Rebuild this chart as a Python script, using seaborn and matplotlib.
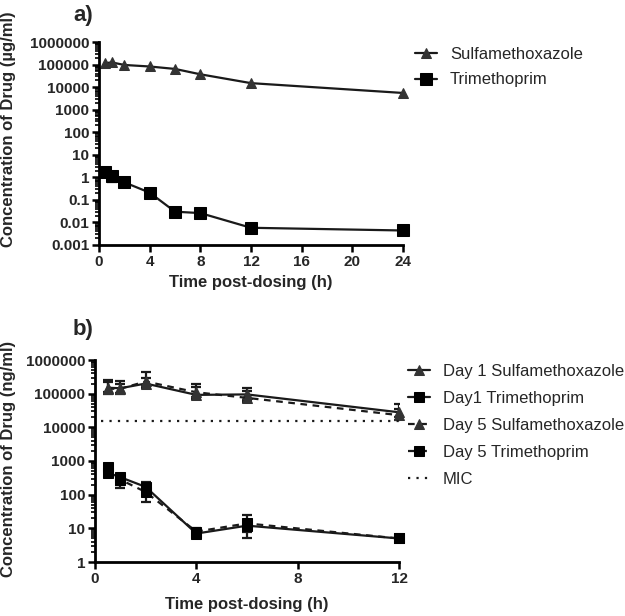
import numpy as np
import pandas as pd
import matplotlib
matplotlib.use("Agg")
import matplotlib.pyplot as plt
import matplotlib.ticker as mticker
import seaborn as sns

# ---------------- data ----------------
# Panel a
t_a = [0.5, 1, 2, 4, 6, 8, 12, 24]
smx_a = [115000, 125000, 96000, 82000, 64000, 37000, 15000, 5500]
tmp_a = [1.65, 1.1, 0.6, 0.21, 0.03, 0.026, 0.0058, 0.0044]
tmp_a_lo = [1.4, 0.65, 0.55, 0.19, 0.018, 0.023, 0.0035, 0.004]
tmp_a_hi = [1.9, 1.3, 0.65, 0.23, 0.035, 0.029, 0.0078, 0.0048]

# Panel b
t_b = [0.5, 1, 2, 4, 6, 12]
d1_smx = [150000, 145000, 200000, 92000, 95000, 28000]
d1_smx_lo = [110000, 105000, 150000, 70000, 65000, 20000]
d1_smx_hi = [260000, 240000, 440000, 190000, 150000, 50000]
d5_smx = [140000, 140000, 230000, 110000, 75000, 23000]
d5_smx_lo = [100000, 100000, 170000, 80000, 55000, 17000]
d5_smx_hi = [220000, 200000, 300000, 160000, 120000, 35000]
d1_tmp = [450, 330, 170, 7, 12, 5]
d1_tmp_lo = [350, 200, 120, 5.5, 5, 4.5]
d1_tmp_hi = [700, 420, 230, 9, 25, 5.5]
d5_tmp = [650, 280, 120, 8, 14, 5]
d5_tmp_lo = [500, 160, 60, 6, 8, 4.5]
d5_tmp_hi = [800, 380, 170, 10, 18, 5.5]
mic_t = [0.25, 12]
mic_val = [15500, 15500]

labels_a = ["Sulfamethoxazole", "Trimethoprim"]
labels_b = ["Day 1 Sulfamethoxazole", "Day1 Trimethoprim",
            "Day 5 Sulfamethoxazole", "Day 5 Trimethoprim", "MIC"]

# ---------------- style ----------------
sns.set_style("ticks")
plt.rcParams['font.family'] = ['Liberation Sans', 'DejaVu Sans']

W, H = 625, 616
fig = plt.figure(figsize=(W / 100, H / 100), dpi=100)

def px_axes(l, t, r, b):
    return fig.add_axes([l / W, 1 - b / H, (r - l) / W, (b - t) / H])

ax_a = px_axes(99, 42, 403, 245)
ax_b = px_axes(95, 360, 399, 562)

LINE = "#1a1a1a"
TRI = "#333333"

def fmt(v, p):
    s = ('%f' % v).rstrip('0').rstrip('.')
    return s

def style_axis(ax, xmax, xstep, ymin, ymax):
    ax.set_yscale('log')
    ax.set_xlim(0, xmax)
    ax.set_ylim(ymin, ymax)
    ax.set_xticks(np.arange(0, xmax + 0.1, xstep))
    ax.yaxis.set_major_locator(mticker.LogLocator(base=10, numticks=20))
    ax.yaxis.set_minor_locator(mticker.LogLocator(base=10, subs=np.arange(2, 10), numticks=20))
    ax.yaxis.set_major_formatter(mticker.FuncFormatter(fmt))
    ax.yaxis.set_minor_formatter(mticker.NullFormatter())
    for s in ['top', 'right']:
        ax.spines[s].set_visible(False)
    for s in ['left', 'bottom']:
        ax.spines[s].set_linewidth(2)
        ax.spines[s].set_color('black')
    ax.tick_params(axis='both', which='major', length=5, width=1.8, color='black',
                   labelsize=11, pad=2)
    ax.tick_params(axis='y', which='minor', length=3, width=1.2, color='black')
    for lab in ax.get_xticklabels() + ax.get_yticklabels():
        lab.set_fontweight('bold')

# ---------------- panel a ----------------
sns.lineplot(x=t_a, y=smx_a, ax=ax_a, color=LINE, lw=1.6, marker='^', markersize=7.5,
             markerfacecolor=TRI, markeredgecolor=TRI, label=labels_a[0], clip_on=False)
tmp_a_arr = np.array(tmp_a)
ax_a.errorbar(t_a, tmp_a, yerr=[tmp_a_arr - np.array(tmp_a_lo), np.array(tmp_a_hi) - tmp_a_arr],
              fmt='none', ecolor=LINE, elinewidth=1.6, capsize=3.5, capthick=1.6)
sns.lineplot(x=t_a, y=tmp_a, ax=ax_a, color=LINE, lw=1.6, marker='s', markersize=8,
             markerfacecolor='black', markeredgecolor='black', label=labels_a[1], clip_on=False)
style_axis(ax_a, 24, 4, 1e-3, 1e6)
ax_a.set_xlabel("Time post-dosing (h)", fontsize=12, fontweight='bold')
ax_a.set_ylabel("Concentration of Drug (µg/ml)", fontsize=12, fontweight='bold')
ax_a.yaxis.set_label_coords((16 - 99) / 304, 1 - (129 - 42) / 203)
ax_a.xaxis.set_label_coords(0.5, (245 - 275) / 203)
ax_a.legend(loc='upper left', bbox_to_anchor=(415 / W, 1 - 47 / H), bbox_transform=fig.transFigure,
            frameon=False, borderpad=0, borderaxespad=0, handlelength=1.3, handletextpad=0.8,
            labelspacing=0.62, fontsize=12)
fig.text(73 / W, 1 - 16 / H, "a)", ha='left', va='center', fontsize=16, fontweight='bold')

# ---------------- panel b ----------------
def eb(ax, t, m, lo, hi):
    m = np.array(m)
    ax.errorbar(t, m, yerr=[m - np.array(lo), np.array(hi) - m], fmt='none', ecolor=LINE,
                elinewidth=1.6, capsize=3.5, capthick=1.6)

eb(ax_b, t_b, d1_smx, d1_smx_lo, d1_smx_hi)
eb(ax_b, t_b, d5_smx, d5_smx_lo, d5_smx_hi)
eb(ax_b, t_b, d1_tmp, d1_tmp_lo, d1_tmp_hi)
eb(ax_b, t_b, d5_tmp, d5_tmp_lo, d5_tmp_hi)

sns.lineplot(x=t_b, y=d1_smx, ax=ax_b, color=LINE, lw=1.6, marker='^', markersize=7.5,
             markerfacecolor=TRI, markeredgecolor=TRI, label=labels_b[0], clip_on=False)
sns.lineplot(x=t_b, y=d1_tmp, ax=ax_b, color=LINE, lw=1.6, marker='s', markersize=7,
             markerfacecolor='black', markeredgecolor='black', label=labels_b[1], clip_on=False)
sns.lineplot(x=t_b, y=d5_smx, ax=ax_b, color=LINE, lw=1.6, marker='^', markersize=7.5,
             markerfacecolor=TRI, markeredgecolor=TRI, label=labels_b[2], clip_on=False,
             dashes=(3, 2.5))
sns.lineplot(x=t_b, y=d5_tmp, ax=ax_b, color=LINE, lw=1.6, marker='s', markersize=7,
             markerfacecolor='black', markeredgecolor='black', label=labels_b[3], clip_on=False,
             dashes=(3, 2.5))
sns.lineplot(x=mic_t, y=mic_val, ax=ax_b, color=LINE, lw=1.6, label=labels_b[4],
             dashes=(1, 2.8))
style_axis(ax_b, 12, 4, 1, 1e6)
ax_b.set_xlabel("Time post-dosing (h)", fontsize=12, fontweight='bold')
ax_b.set_ylabel("Concentration of Drug (ng/ml)", fontsize=12, fontweight='bold')
ax_b.yaxis.set_label_coords((16 - 95) / 304, 1 - (459 - 360) / 202)
ax_b.xaxis.set_label_coords(0.5, (562 - 597) / 202)
ax_b.legend(loc='upper left', bbox_to_anchor=(408 / W, 1 - 364 / H), bbox_transform=fig.transFigure,
            frameon=False, borderpad=0, borderaxespad=0, handlelength=1.3, handletextpad=0.8,
            labelspacing=0.72, fontsize=12)
fig.text(73 / W, 1 - 329 / H, "b)", ha='left', va='center', fontsize=16, fontweight='bold')

fig.savefig("out.png", dpi=100)
